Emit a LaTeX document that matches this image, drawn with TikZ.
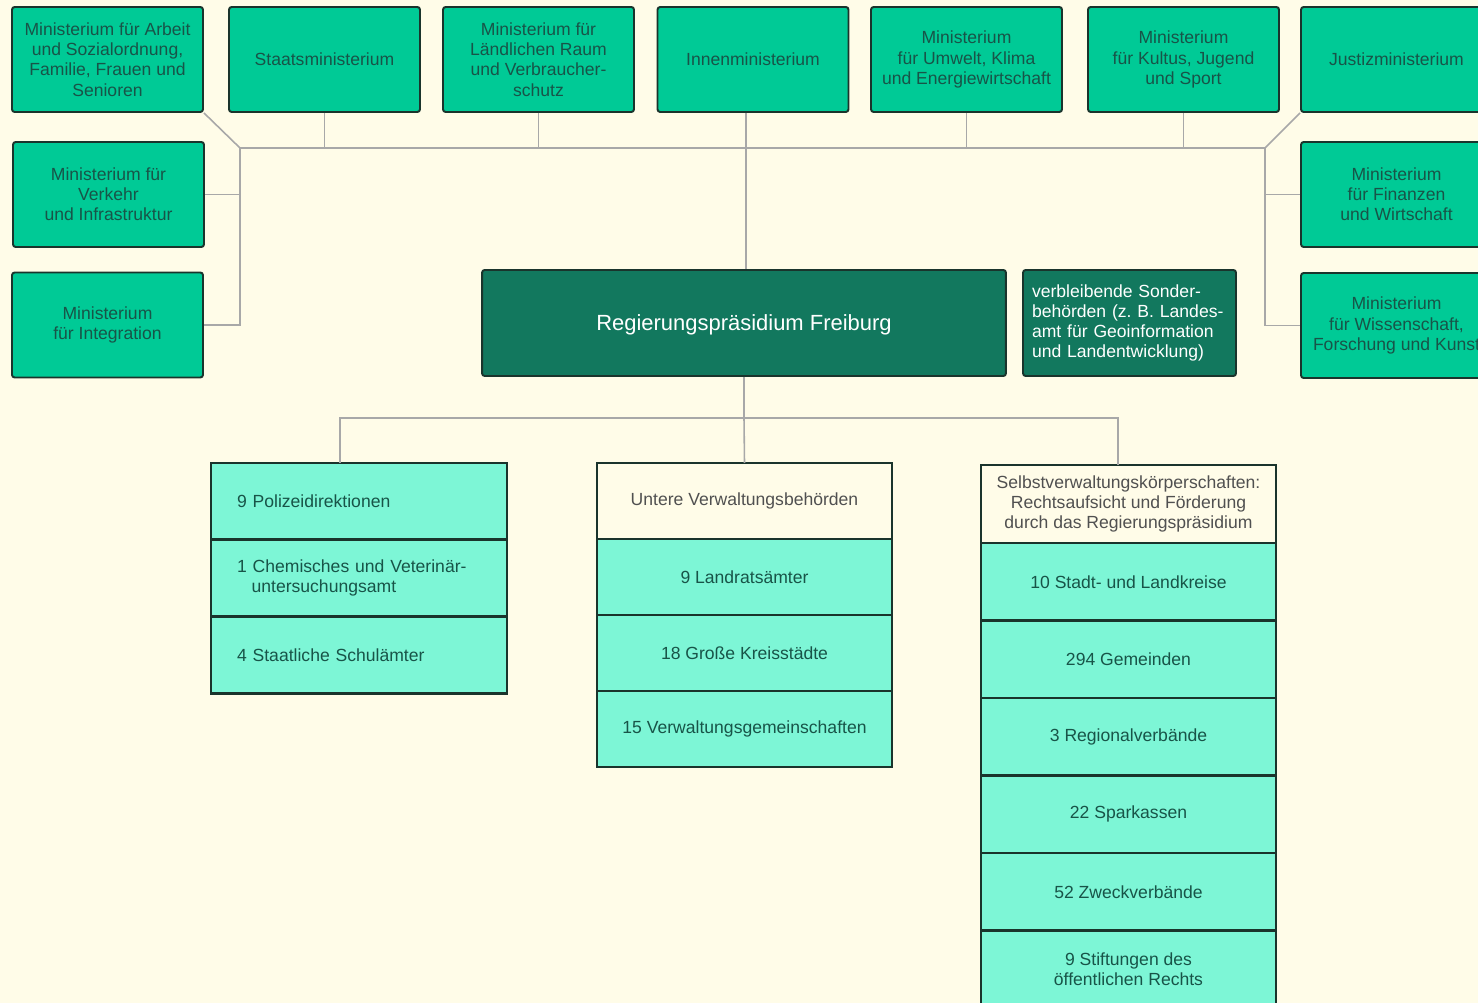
\documentclass[tikz,border=0pt]{standalone}
\usepackage{fontspec}
\setmainfont{Liberation Sans}
\usetikzlibrary{positioning}

\definecolor{bgcream}{RGB}{255,252,232}
\definecolor{minigreen}{RGB}{0,202,150}
\definecolor{cellgreen}{RGB}{125,246,214}
\definecolor{rpgreen}{RGB}{18,120,94}
\definecolor{boxtext}{RGB}{24,84,72}
\definecolor{headtext}{RGB}{80,80,80}
\definecolor{linkgray}{RGB}{168,168,168}
\definecolor{edgedark}{RGB}{26,52,44}

\tikzset{
  ministry/.style={draw=edgedark, line width=1.1pt, fill=minigreen, text=boxtext,
    align=center, minimum width=3.82cm, minimum height=2.1cm, rounded corners=1.5pt,
    inner sep=2pt},
  rpbox/.style={draw=edgedark, line width=1.1pt, fill=rpgreen, text=white,
    minimum height=2.12cm, rounded corners=1.5pt},
  cell/.style={draw=edgedark, line width=1.2pt, fill=cellgreen, text=boxtext,
    align=center, minimum width=5.9cm, outer sep=0pt, anchor=north},
  headcell/.style={cell, fill=bgcream, text=headtext},
  leftcell/.style={cell, align=left, text width=4.88cm, inner xsep=0.52cm},
  link/.style={draw=linkgray, line width=0.9pt},
}

\begin{document}
\frenchspacing
\begin{tikzpicture}[x=0.02cm, y=-0.02cm, font=\fontsize{10}{11.5}\selectfont]
\fill[bgcream] (0,0) rectangle (1478,1003);
\useasboundingbox (0,0) rectangle (1478,1003);
\clip (0,0) rectangle (1478,1003);

% Ministerien
\node[ministry] (arbeit) at (107.5,59.5) {Ministerium für Arbeit\\und Sozialordnung,\\Familie, Frauen und\\Senioren};
\node[ministry] (staats) at (324.5,59.5) {Staatsministerium};
\node[ministry] (laendl) at (538.5,59.5) {Ministerium für\\Ländlichen Raum\\und Verbraucher-\\schutz};
\node[ministry] (innen) at (753,59.5) {Innenministerium};
\node[ministry] (umwelt) at (966.5,59.5) {Ministerium\\für Umwelt, Klima\\und Energiewirtschaft};
\node[ministry] (kultus) at (1183.5,59.5) {Ministerium\\für Kultus, Jugend\\und Sport};
\node[ministry] (justiz) at (1396.5,59.5) {Justizministerium};
\node[ministry] (verkehr) at (108.5,194.5) {Ministerium für\\Verkehr\\und Infrastruktur};
\node[ministry] (integr) at (107.5,325) {Ministerium\\für Integration};
\node[ministry] (finanz) at (1396.5,194.5) {Ministerium\\für Finanzen\\und Wirtschaft};
\node[ministry] (wissen) at (1396.5,325.5) {Ministerium\\für Wissenschaft,\\Forschung und Kunst};

% Regierungspraesidium
\node[rpbox, minimum width=10.48cm, font=\fontsize{12.5}{14}\selectfont, text depth=-0.1cm] (rp) at (744,323) {Regierungspräsidium Freiburg};
\node[rpbox, align=left, text width=3.9cm, inner xsep=0.18cm] (sonder) at (1129.5,323)
  {verbleibende Sonder-\\behörden (z. B. Landes-\\amt für Geoinformation\\und Landentwicklung)};

% Verbindungen oben
\coordinate (busL) at (240,148);
\coordinate (busR) at (1265,148);
\draw[link] (arbeit.south east) -- (busL) -- (busR) -- (justiz.south west);
\draw[link] (busL) |- (integr.east);
\draw[link] (verkehr.east) -- (verkehr.east -| busL);
\draw[link] (busR) |- (wissen.west);
\draw[link] (finanz.west) -- (finanz.west -| busR);
\foreach \m in {staats,laendl,umwelt,kultus}
  \draw[link] (\m.south) -- (\m.south |- busL);
\draw[link] ([xshift=0.04cm]rp.north) -- ([xshift=0.04cm]rp.north |- innen.south);

% untere Ebene
\node[leftcell, minimum height=1.53cm] (polizei) at (359,463) {9 Polizeidirektionen};
\node[leftcell, minimum height=1.54cm] (chemie) at (polizei.south) {1 Chemisches und Veterinär-\\\hspace*{.83em}untersuchungsamt};
\node[leftcell, minimum height=1.54cm] (schule) at (chemie.south) {4 Staatliche Schulämter};

\node[headcell, minimum height=1.52cm] (untere) at (744.5,463) {Untere Verwaltungsbehörden};
\foreach \txt [count=\i] in {9 Landratsämter, 18 Große Kreisstädte, 15 Verwaltungsgemeinschaften}
  \node[cell, minimum height=1.52cm] (untere\i) at (744.5,{463+\i*76}) {\txt};

\node[headcell, minimum height=1.56cm] (selbst) at (1128.5,465)
  {Selbstverwaltungskörperschaften:\\Rechtsaufsicht und Förderung\\durch das Regierungspräsidium};
\foreach \txt [count=\i] in {10 Stadt- und Landkreise, 294 Gemeinden, 3 Regionalverbände,
    22 Sparkassen, 52 Zweckverbände, {9 Stiftungen des\\öffentlichen Rechts}}
  \node[cell, minimum height=1.55cm] (selbst\i) at (1128.5,{465.5+\i*77.5}) {\txt};

\coordinate (busU) at (744,418);
\draw[link] (rp.south) -- (busU);
\draw[link] ([xshift=-0.38cm]polizei.north) |- (busU) -| ([xshift=-0.21cm]selbst.north);
\draw[link] (busU) -- (untere.north);
\end{tikzpicture}
\end{document}
